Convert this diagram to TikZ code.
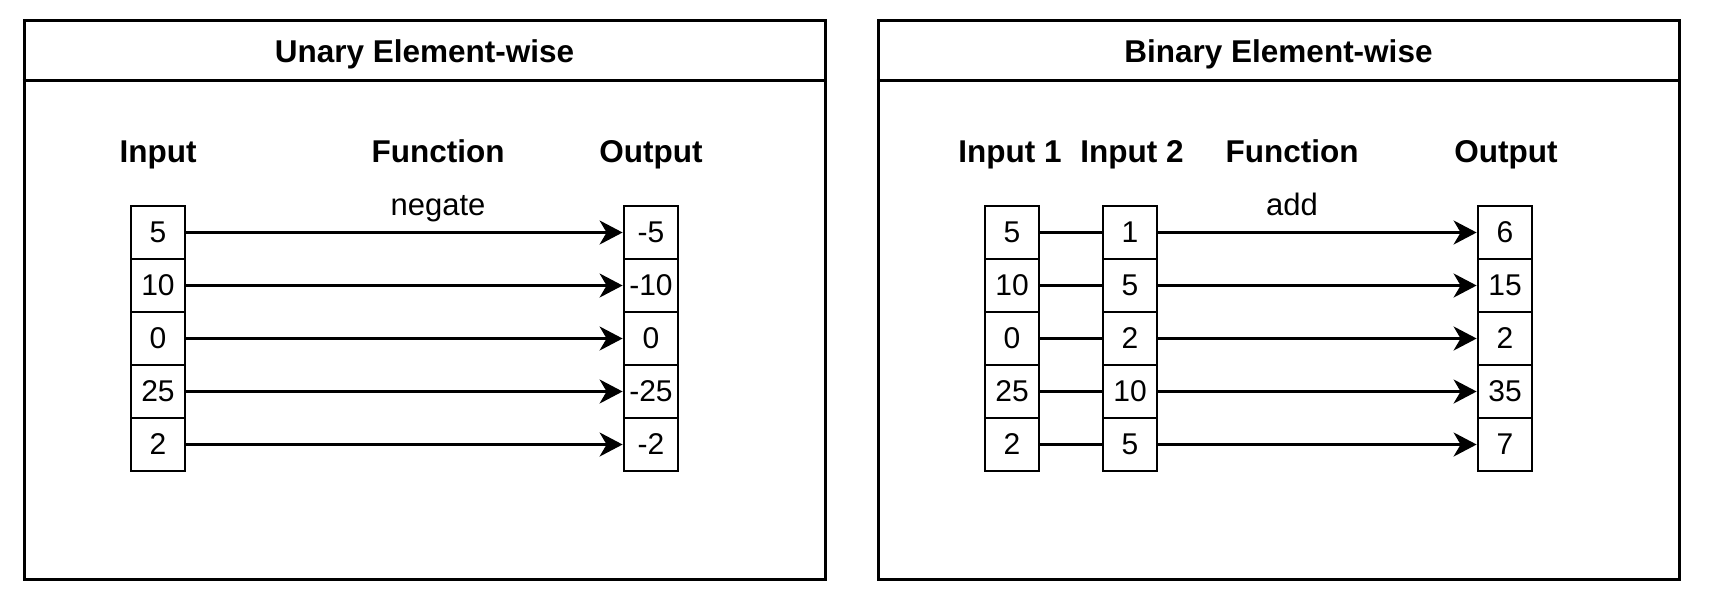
\documentclass[tikz,border=0pt]{standalone}
\usepackage{fontspec}
\setmainfont{Liberation Sans}
\usetikzlibrary{arrows.meta}
\begin{document}
\begin{tikzpicture}[x=1pt,y=-1pt,
  cell/.style={draw, line width=2.8pt, minimum width=54pt, minimum height=53pt, inner sep=0pt, font=\fontsize{30}{36}\selectfont},
  hdr/.style={font=\bfseries\fontsize{31.5}{38}\selectfont, inner sep=0pt, anchor=base},
  lbl/.style={font=\fontsize{31}{37}\selectfont, inner sep=0pt, anchor=base},
  panel/.style={draw, line width=3pt, minimum width=801pt, minimum height=559pt, inner sep=0pt},
  arr/.style={line width=2.8pt, -{Stealth[length=23pt, width=24pt, inset=7pt]}},
  link/.style={line width=2.8pt}]
\useasboundingbox (0,0) rectangle (1710,598);

% ---------- Left panel ----------
\node[panel] (lp) at (424.5,299.5) {};
\coordinate (lh) at (0,80);
\draw[line width=3pt] (lp.west |- lh) -- (lp.east |- lh);
\node[hdr] (ltitle) at (424.5,62.5) {Unary Element-wise};
\node[hdr] (lin) at (158,162.3) {Input};
\node[hdr] (lfun) at (438,162.3) {Function};
\node[hdr] (lout) at (651,162.3) {Output};
\node[lbl] (lneg) at (438,215) {negate};

\foreach \i/\a/\b in {1/5/-5, 2/10/-10, 3/0/0, 4/25/-25, 5/2/-2} {
  \node[cell] (li\i) at (158,{179.5+53*\i}) {\a};
  \node[cell] (lo\i) at (651,{179.5+53*\i}) {\b};
}
\foreach \i in {1,...,5} {
  \draw[arr] (li\i.east) -- (lo\i.west);
}

% ---------- Right panel ----------
\node[panel] (rp) at (1278.5,299.5) {};
\coordinate (rh) at (0,80);
\draw[line width=3pt] (rp.west |- rh) -- (rp.east |- rh);
\node[hdr] (rtitle) at (1278.5,62.5) {Binary Element-wise};
\node[hdr] (rin1) at (1010,162.3) {Input 1};
\node[hdr] (rin2) at (1132,162.3) {Input 2};
\node[hdr] (rfun) at (1292,162.3) {Function};
\node[hdr] (rout) at (1506,162.3) {Output};
\node[lbl] (radd) at (1292,215) {add};

\foreach \i/\a/\b/\c in {1/5/1/6, 2/10/5/15, 3/0/2/2, 4/25/10/35, 5/2/5/7} {
  \node[cell] (ra\i) at (1012,{179.5+53*\i}) {\a};
  \node[cell] (rb\i) at (1130,{179.5+53*\i}) {\b};
  \node[cell] (ro\i) at (1505,{179.5+53*\i}) {\c};
}
\foreach \i in {1,...,5} {
  \draw[link] (ra\i.east) -- (rb\i.west);
  \draw[arr] (rb\i.east) -- (ro\i.west);
}
\end{tikzpicture}
\end{document}
